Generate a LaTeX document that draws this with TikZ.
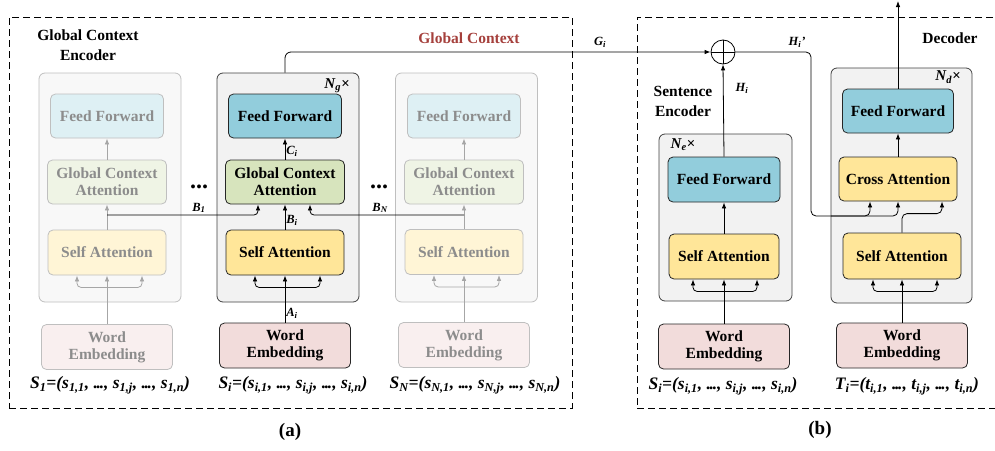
\documentclass[tikz,border=0pt]{standalone}
\usepackage{fontspec}
\setmainfont{Liberation Serif}
\usetikzlibrary{arrows.meta}

\definecolor{ffblue}{HTML}{92CDDC}
\definecolor{gcagreen}{HTML}{D7E4BD}
\definecolor{sayellow}{HTML}{FFE699}
\definecolor{wepink}{HTML}{F2DCDB}
\definecolor{layergray}{HTML}{F2F2F2}
\definecolor{ctxred}{HTML}{A5403C}
\definecolor{fadetext}{HTML}{8C8C8C}

\newcommand{\idx}[1]{\textsubscript{#1}}
\newcommand{\dts}{.\kern-1.3pt.\kern-1.3pt.}

\begin{document}
\begin{tikzpicture}[x=1pt, y=-1pt, line width=0.8pt, >={Latex[length=6pt,width=4.5pt]}]
        \tikzstyle{blk}=[draw=black!85, rounded corners=5pt, align=center, inner sep=0pt, font=\bfseries\fontsize{15.5}{17}\selectfont]
        \tikzstyle{layer}=[draw=black!75, rounded corners=6pt, fill=layergray]
        \tikzstyle{faded}=[draw=gray!50, text=fadetext]
        \tikzstyle{lbl}=[font=\bfseries\itshape\fontsize{12.5}{12.5}\selectfont, inner sep=1pt]
        \tikzstyle{rep}=[font=\bfseries\itshape\fontsize{15}{15}\selectfont, inner sep=1pt]
        \tikzstyle{seq}=[font=\bfseries\itshape\fontsize{17.5}{17.5}\selectfont, inner sep=0pt]
        \tikzstyle{title}=[font=\bfseries\fontsize{15.5}{20}\selectfont, align=center, inner sep=0pt]
        \tikzstyle{panel}=[draw, dash pattern=on 7pt off 4pt]
        \tikzstyle{dim}=[gray!70]
        \tikzstyle{more}=[font=\bfseries\fontsize{24}{24}\selectfont, inner sep=0pt, anchor=base]

        \useasboundingbox (0,0) rectangle (995,450);

        % dashed panels
        \node[panel, minimum width=563pt, minimum height=391pt] (panelA) at (290.5,212.5) {};
        \node[panel, minimum width=362pt, minimum height=391pt] (panelB) at (818,212.5) {};
        \node[title, font=\bfseries\fontsize{19}{19}\selectfont] (capA) at (290,432) {(a)};
        \node[title, font=\bfseries\fontsize{19}{19}\selectfont] (capB) at (820,430) {(b)};

        % (a) first sentence, faded
        \node[layer, faded, fill=layergray!50, minimum width=142pt, minimum height=229pt] (lLay) at (110,187.5) {};
        \node[blk, faded, fill=ffblue!30, minimum width=113pt, minimum height=44pt] (lFF) at (107,116) {Feed Forward};
        \node[blk, faded, fill=gcagreen!40, minimum width=119pt, minimum height=44pt] (lGCA) at (107,182) {Global Context\\Attention};
        \node[blk, faded, fill=sayellow!40, minimum width=118pt, minimum height=45pt] (lSA) at (107,252.5) {Self Attention};
        \node[blk, faded, fill=wepink!45, minimum width=131pt, minimum height=45pt] (lWE) at (107,347) {Word\\Embedding};
        \node[seq] (lSeq) at (110,385) {S\idx{1}=(s\idx{1,1}, \dts, s\idx{1,j}, \dts, s\idx{1,n})};

        % (a) i-th sentence
        \node[layer, minimum width=142pt, minimum height=229pt] (mLay) at (288,187.5) {};
        \node[blk, fill=ffblue, minimum width=113pt, minimum height=44pt] (mFF) at (285,116) {Feed Forward};
        \node[blk, fill=gcagreen, minimum width=119pt, minimum height=44pt] (mGCA) at (285,182) {Global Context\\Attention};
        \node[blk, fill=sayellow, minimum width=118pt, minimum height=45pt] (mSA) at (285,252.5) {Self Attention};
        \node[blk, fill=wepink, minimum width=131pt, minimum height=45pt] (mWE) at (285,345.5) {Word\\Embedding};
        \node[seq] (mSeq) at (293,385) {S\idx{i}=(s\idx{i,1}, \dts, s\idx{i,j}, \dts, s\idx{i,n})};
        \node[rep] (ng) at (337,86) {N\idx{g}×};

        % (a) last sentence, faded
        \node[layer, faded, fill=layergray!50, minimum width=142pt, minimum height=229pt] (rLay) at (466.5,187.5) {};
        \node[blk, faded, fill=ffblue!30, minimum width=113pt, minimum height=44pt] (rFF) at (464,116) {Feed Forward};
        \node[blk, faded, fill=gcagreen!40, minimum width=119pt, minimum height=44pt] (rGCA) at (464,182) {Global Context\\Attention};
        \node[blk, faded, fill=sayellow!40, minimum width=118pt, minimum height=45pt] (rSA) at (464,252) {Self Attention};
        \node[blk, faded, fill=wepink!45, minimum width=131pt, minimum height=45pt] (rWE) at (464,345) {Word\\Embedding};
        \node[seq] (rSeq) at (475,385) {S\idx{N}=(s\idx{N,1}, \dts, s\idx{N,j}, \dts, s\idx{N,n})};

        \node[title] (gce) at (88,45) {Global Context\\Encoder};
        \node[title, text=ctxred] (gctx) at (469,38) {Global Context};
        \node[more] (dotsL) at (199,188) {...};
        \node[more] (dotsR) at (379,188) {...};

        % faded arrows
        \foreach \c in {l, r} {
            \draw[->, dim] (\c WE.north) -- (\c SA.south);
            \draw[->, dim, rounded corners=4pt] ([yshift=-12pt]\c SA.south) -| ([xshift=-30pt]\c SA.south);
            \draw[->, dim, rounded corners=4pt] ([yshift=-12pt]\c SA.south) -| ([xshift=35pt]\c SA.south);
            \draw[->, dim] (\c SA.north) -- (\c GCA.south);
            \draw[->, dim] (\c GCA.north) -- (\c FF.south);
        }

        % i-th sentence arrows
        \draw[->] (mWE.north) -- node[lbl, right, pos=0.2] (ai) {A\idx{i}} (mSA.south);
        \draw[->, rounded corners=4pt] ([yshift=-12pt]mSA.south) -| ([xshift=-30pt]mSA.south);
        \draw[->, rounded corners=4pt] ([yshift=-12pt]mSA.south) -| ([xshift=35pt]mSA.south);
        \draw[->] (mSA.north) -- node[lbl, right, pos=0.35] (bi) {B\idx{i}} (mGCA.south);
        \draw[->] (mGCA.north) -- node[lbl, right, pos=0.4] (ci) {C\idx{i}} (mFF.south);

        \coordinate (lB) at (107,215);
        \coordinate (rB) at (464,215);
        \draw[->, rounded corners=4pt] (lB) -| ([xshift=-27pt]mGCA.south);
        \draw[->, rounded corners=4pt] (rB) -| ([xshift=25pt]mGCA.south);
        \node[lbl] (b1) at (199,208) {B\idx{1}};
        \node[lbl] (bn) at (380,208) {B\idx{N}};

        % (b) fusion
        \node[draw, circle, minimum size=24pt, inner sep=0pt] (plus) at (723,52) {};
        \draw (plus.north) -- (plus.south) (plus.west) -- (plus.east);
        \draw[->, rounded corners=6pt] (mLay.north -| mFF.north) |- (plus.west);
        \node[lbl] (gi) at (600,42) {G\idx{i}};

        % (b) sentence encoder
        \node[layer, minimum width=133pt, minimum height=167pt] (eLay) at (725.5,217.5) {};
        \node[blk, fill=ffblue, minimum width=112pt, minimum height=45pt] (eFF) at (724,179.5) {Feed Forward};
        \node[blk, fill=sayellow, minimum width=110pt, minimum height=45pt] (eSA) at (724,256.5) {Self Attention};
        \node[blk, fill=wepink, minimum width=131pt, minimum height=45pt] (eWE) at (724,346.5) {Word\\Embedding};
        \node[seq] (eSeq) at (723,386) {S\idx{i}=(s\idx{i,1}, \dts, s\idx{i,j}, \dts, s\idx{i,n})};
        \node[rep] (ne) at (683,145) {N\idx{e}×};
        \node[title] (se) at (683,101) {Sentence\\Encoder};

        \draw[->] (eWE.north) -- (eSA.south);
        \draw[->, rounded corners=4pt] ([yshift=-12pt]eSA.south) -| ([xshift=-31pt]eSA.south);
        \draw[->, rounded corners=4pt] ([yshift=-12pt]eSA.south) -| ([xshift=33pt]eSA.south);
        \draw[->] (eSA.north) -- (eFF.south);
        \draw[->] (eFF.north) -- (plus.south);
        \node[lbl] (hi) at (742,88) {H\idx{i}};

        % (b) decoder
        \node[layer, minimum width=141pt, minimum height=235pt] (dLay) at (901.5,185.5) {};
        \node[blk, fill=ffblue, minimum width=111pt, minimum height=44pt] (dFF) at (898,111) {Feed Forward};
        \node[blk, fill=sayellow, minimum width=118pt, minimum height=44pt] (dCA) at (898,179) {Cross Attention};
        \node[blk, fill=sayellow, minimum width=118pt, minimum height=46pt] (dSA) at (902,256) {Self Attention};
        \node[blk, fill=wepink, minimum width=131pt, minimum height=45pt] (dWE) at (902,345.5) {Word\\Embedding};
        \node[seq] (dSeq) at (907,386) {T\idx{i}=(t\idx{i,1}, \dts, t\idx{i,j}, \dts, t\idx{i,n})};
        \node[rep] (nd) at (948,77) {N\idx{d}×};
        \node[title] (dec) at (950,38) {Decoder};

        \draw[->] (dWE.north) -- (dSA.south);
        \draw[->, rounded corners=4pt] ([yshift=-12pt]dSA.south) -| ([xshift=-29pt]dSA.south);
        \draw[->, rounded corners=4pt] ([yshift=-12pt]dSA.south) -| ([xshift=35pt]dSA.south);
        \draw[->, rounded corners=5pt] (dSA.north) -- ++(0,-19) -| ([xshift=44pt]dCA.south);
        \draw[->] (dCA.north) -- (dFF.south);
        \coordinate (out) at (898,1);
        \draw[->] (dFF.north) -- (out);

        \coordinate (hDown) at (811,216);
        \draw[->, rounded corners=5pt] (plus.east) -| (hDown) -| ([xshift=-28pt]dCA.south);
        \draw[->, rounded corners=5pt] ([xshift=20pt]hDown) -| (dCA.south);
        \node[lbl] (hip) at (797,42) {H\idx{i}’};

    \end{tikzpicture}
\end{document}
